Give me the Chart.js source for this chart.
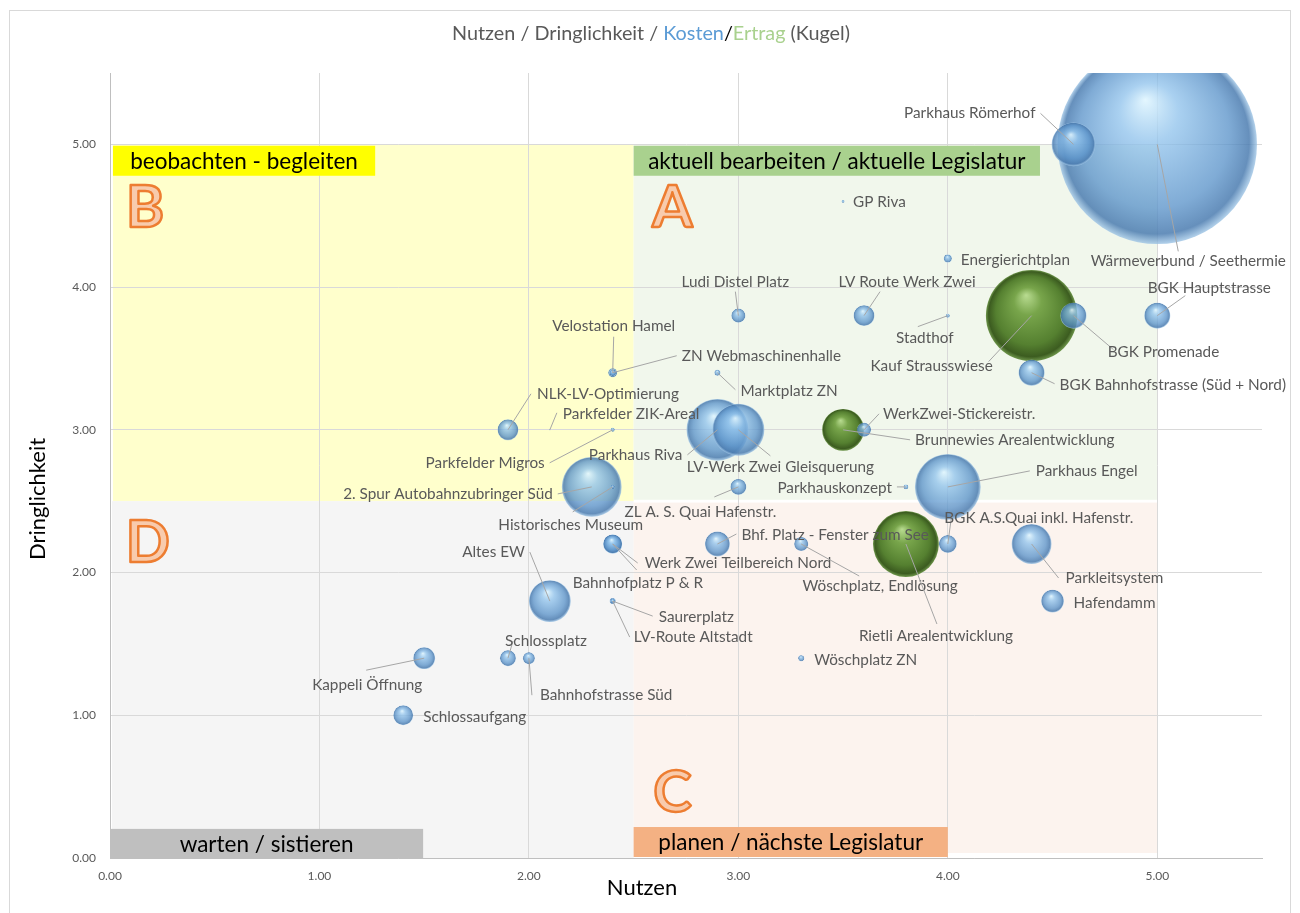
<!DOCTYPE html>
<html><head><meta charset="utf-8">
<script src="https://cdn.jsdelivr.net/npm/chart.js@4/dist/chart.umd.min.js"></script>
<style>html,body{margin:0;padding:0;background:#fff;}#wrap{width:1300px;height:913px;}</style>
</head><body><div id="wrap"><canvas id="c" width="1300" height="913"></canvas></div>
<script>
// ---------- DATA ----------
const kostenProjekte = ['Wärmeverbund / Seethermie','Parkhaus Römerhof','GP Riva','Energierichtplan','LV Route Werk Zwei','Ludi Distel Platz','Stadthof','BGK Promenade','BGK Hauptstrasse','BGK Bahnhofstrasse (Süd + Nord)','Velostation Hamel','ZN Webmaschinenhalle','Marktplatz ZN','NLK-LV-Optimierung','Parkfelder ZIK-Areal','Parkfelder Migros','Parkhaus Riva','LV-Werk Zwei Gleisquerung','WerkZwei-Stickereistr.','2. Spur Autobahnzubringer Süd','Historisches Museum','ZL A. S. Quai Hafenstr.','Parkhauskonzept','Parkhaus Engel','Werk Zwei Teilbereich Nord','Bahnhofplatz P & R','Bhf. Platz - Fenster zum See','Wöschplatz, Endlösung','BGK A.S.Quai inkl. Hafenstr.','Parkleitsystem','Hafendamm','Altes EW','Saurerplatz','LV-Route Altstadt','Wöschplatz ZN','Kappeli Öffnung','Schlossplatz','Bahnhofstrasse Süd','Schlossaufgang'];
const kostenNutzen = [5.0,4.6,3.5,4.0,3.6,3.0,4.0,4.6,5.0,4.4,2.4,2.4,2.9,1.9,2.1,2.4,2.9,3.0,3.6,2.3,2.4,3.0,3.8,4.0,2.4,2.4,2.9,3.3,4.0,4.4,4.5,2.1,2.4,2.4,3.3,1.5,1.9,2.0,1.4];
const kostenDringlichkeit = [5.0,5.0,4.6,4.2,3.8,3.8,3.8,3.8,3.8,3.4,3.4,3.4,3.4,3.0,3.0,3.0,3.0,3.0,3.0,2.6,2.6,2.6,2.6,2.6,2.2,2.2,2.2,2.2,2.2,2.2,1.8,1.8,1.8,1.8,1.4,1.4,1.4,1.4,1.0];
const kostenGroesse = [100,4.8,0.02,0.16,1.1,0.5,0.04,1.7,1.7,1.7,0.2,0.1,0.09,1.1,0.003,0.04,9.6,6.8,0.5,9.0,0.04,0.64,0.06,10.9,0.9,0.9,1.56,0.5,0.8,4.0,1.3,4.4,0.09,0.05,0.09,1.2,0.64,0.36,1.0];

const ertragProjekte = ['Kauf Strausswiese','Brunnewies Arealentwicklung','Rietli Arealentwicklung'];
const ertragNutzen = [4.4,3.5,3.8];
const ertragDringlichkeit = [3.8,3.0,2.2];
const ertragGroesse = [21,4.4,10.9];

const achsenTicks = [0,1,2,3,4,5];
const titelTeile = ['Nutzen / Dringlichkeit / ','Kosten','/','Ertrag',' (Kugel)'];
const quadrantTitel = ['aktuell bearbeiten / aktuelle Legislatur','beobachten - begleiten','planen / nächste Legislatur','warten / sistieren'];
const quadrantBuchstaben = ['A','B','C','D'];

// ---------- LAYOUT (label placement, px offsets from point) ----------
const labelLayout = {
 'Wärmeverbund / Seethermie':[31,117,'center',21,107],
 'Parkhaus Römerhof':[-38,-31,'right',-33,-31],
 'GP Riva':[10,1,'left',null,null],
 'Energierichtplan':[13,2,'left',null,null],
 'LV Route Werk Zwei':[43,-34,'center',16,-24],
 'Ludi Distel Platz':[-3,-34,'center',-3,-24],
 'Stadthof':[-23,22,'center',-30,11],
 'Kauf Strausswiese':[-100,50,'center',-43,46],
 'BGK Promenade':[90,36,'center',40,34],
 'BGK Hauptstrasse':[52,-28,'center',28,-20],
 'BGK Bahnhofstrasse (Süd + Nord)':[28,12,'left',23,11],
 'Velostation Hamel':[1,-47,'center',1,-36],
 'ZN Webmaschinenhalle':[69,-17,'left',64,-17],
 'Marktplatz ZN':[23,18,'left',18,17],
 'NLK-LV-Optimierung':[29,-36,'left',23,-36],
 'Parkfelder ZIK-Areal':[13,-16,'left',7,-17],
 'Parkfelder Migros':[-68,33,'right',-63,33],
 'Parkhaus Riva':[-35,25,'right',-30,25],
 'LV-Werk Zwei Gleisquerung':[42,37,'center',32,26],
 'Brunnewies Arealentwicklung':[72,10,'left',67,10],
 'WerkZwei-Stickereistr.':[19,-16,'left',15,-16],
 '2. Spur Autobahnzubringer Süd':[-39,7,'right',-34,7],
 'Historisches Museum':[-42,38,'center',-40,25],
 'ZL A. S. Quai Hafenstr.':[-38,25,'center',-24,10],
 'Parkhauskonzept':[-14,1,'right',-9,0],
 'Parkhaus Engel':[88,-16,'left',82,-16],
 'Werk Zwei Teilbereich Nord':[32,19,'left',25,19],
 'Bahnhofplatz P & R':[-40,39,'left',24,26],
 'Bhf. Platz - Fenster zum See':[24,-9,'left',19,-10],
 'Wöschplatz, Endlösung':[79,42,'center',58,32],
 'Rietli Arealentwicklung':[30,92,'center',31,80],
 'BGK A.S.Quai inkl. Hafenstr.':[91,-26,'center',4,-30],
 'Parkleitsystem':[34,34,'left',27,34],
 'Hafendamm':[21,2,'left',null,null],
 'Altes EW':[-25,-49,'right',-20,-49],
 'Saurerplatz':[46,16,'left',40,15],
 'LV-Route Altstadt':[21,36,'left',17,36],
 'Wöschplatz ZN':[13,2,'left',null,null],
 'Kappeli Öffnung':[-57,27,'center',-58,12],
 'Schlossplatz':[38,-17,'center',5,-17],
 'Bahnhofstrasse Süd':[11,37,'left',3,37],
 'Schlossaufgang':[20,2,'left',null,null]
};

const FONT = 'Lato, "Open Sans", sans-serif';
const R_MAX = 99.7; // px radius of the largest bubble
const maxGroesse = Math.max(...kostenGroesse, ...ertragGroesse);

function sphere(stops){
  return function(ctx){
    const ch = ctx.chart;
    if(!ch.chartArea || !ctx.raw) return stops[1][1];
    const cx = ch.scales.x.getPixelForValue(ctx.raw.x);
    const cy = ch.scales.y.getPixelForValue(ctx.raw.y);
    const r = Math.max(ctx.raw.r,0.5);
    const g = ch.ctx.createRadialGradient(cx - 0.12*r, cy - 0.45*r, 0, cx, cy, r);
    stops.forEach(s=>g.addColorStop(s[0], s[1]));
    return g;
  };
}
const blueStops = [[0,'rgba(225,246,255,0.9)'],[0.3,'rgba(145,195,236,0.78)'],[0.75,'rgba(92,148,202,0.78)'],[0.93,'rgba(75,124,176,0.85)'],[1,'rgba(160,198,230,0.8)']];
const greenStops = [[0,'rgba(185,220,145,1)'],[0.3,'rgba(120,165,75,1)'],[0.75,'rgba(85,128,48,1)'],[0.93,'rgba(60,92,32,1)'],[1,'rgba(110,150,75,1)']];

function toPoints(names, xs, ys, sizes){
  return names.map((n,i)=>({x:xs[i], y:ys[i], r:R_MAX*Math.sqrt(sizes[i]/maxGroesse), name:n}));
}

const bgPlugin = {
  id:'bg',
  beforeDraw(chart){
    const c = chart.ctx, X = chart.scales.x, Y = chart.scales.y;
    c.save();
    c.fillStyle = '#fff'; c.fillRect(0,0,chart.width,chart.height);
    c.strokeStyle = '#D9D9D9'; c.lineWidth = 1;
    c.strokeRect(9.5,10.5,1281,915);
    const rect = (x0,y0,x1,y1,col)=>{
      const a = X.getPixelForValue(x0), b = X.getPixelForValue(x1);
      const t = Y.getPixelForValue(y1), u = Y.getPixelForValue(y0);
      c.fillStyle = col; c.fillRect(a,t,b-a,u-t);
    };
    rect(0.014,2.5,2.5,5.0,'#FFFFCC');
    rect(2.5,2.51,5.0,5.0,'#F1F7EC');
    rect(0.01,0,2.5,2.5,'#F5F5F5');
    rect(2.5,0.035,5.0,2.49,'#FCF3EE');
    // title
    c.font = '17px '+FONT;
    let total = 0; titelTeile.forEach(t=>total += c.measureText(t).width);
    const scale = 398/total;
    c.font = (17*scale).toFixed(2)+'px '+FONT;
    total = 0; titelTeile.forEach(t=>total += c.measureText(t).width);
    let x = 651 - total/2;
    const cols = ['#595959','#5B9BD5','#000000','#A9D18E','#595959'];
    c.textBaseline = 'middle'; c.textAlign = 'left';
    titelTeile.forEach((t,i)=>{ c.fillStyle = cols[i]; c.fillText(t,x,34); x += c.measureText(t).width; });
    // axis titles
    c.fillStyle = '#000'; c.font = '22px '+FONT; c.textAlign='center';
    c.fillText('Nutzen', 642, 888);
    c.save(); c.translate(38,499); c.rotate(-Math.PI/2); c.fillText('Dringlichkeit',0,0); c.restore();
    c.restore();
  },
  beforeDatasetsDraw(chart){
    const c = chart.ctx, X = chart.scales.x, Y = chart.scales.y;
    c.save();
    const box = (x0,y0,x1,y1,col,txt)=>{
      const a = X.getPixelForValue(x0), b = X.getPixelForValue(x1);
      const t = Y.getPixelForValue(y1), u = Y.getPixelForValue(y0);
      c.fillStyle = col; c.fillRect(a,t,b-a,u-t);
      c.fillStyle = '#000'; c.font = '22.5px '+FONT; c.textAlign='center'; c.textBaseline='middle';
      c.fillText(txt,(a+b)/2,(t+u)/2+1);
    };
    box(2.5,4.78,4.44,4.99,'#A9D18E',quadrantTitel[0]);
    box(0.014,4.78,1.266,4.99,'#FFFF00',quadrantTitel[1]);
    box(2.5,0.007,4.0,0.217,'#F4B183',quadrantTitel[2]);
    box(0,0,1.495,0.204,'#BFBFBF',quadrantTitel[3]);
    const letter = (ch,x,y)=>{
      c.font = 'bold 58px '+FONT; c.textAlign='center'; c.textBaseline='alphabetic';
      c.lineJoin='round'; c.lineWidth = 2.5; c.strokeStyle = '#ED7D31'; c.fillStyle = '#F8CBAD';
      const px = X.getPixelForValue(x), py = Y.getPixelForValue(y);
      c.fillText(ch,px,py); c.strokeText(ch,px,py);
    };
    letter(quadrantBuchstaben[0],2.685,4.42);
    letter(quadrantBuchstaben[1],0.167,4.42);
    letter(quadrantBuchstaben[2],2.685,0.32);
    letter(quadrantBuchstaben[3],0.18,2.076);
    c.restore();
  },
  afterDatasetsDraw(chart){
    const c = chart.ctx;
    c.save();
    c.font = '15.3px '+FONT; c.textBaseline='middle';
    chart.data.datasets.forEach((ds,di)=>{
      const meta = chart.getDatasetMeta(di);
      ds.data.forEach((p,i)=>{
        const el = meta.data[i]; const L = labelLayout[p.name]; if(!L) return;
        const px = el.x, py = el.y;
        if(L[3]!==null){
          c.strokeStyle='#A6A6A6'; c.lineWidth=1;
          c.beginPath(); c.moveTo(px+L[3],py+L[4]); c.lineTo(px,py); c.stroke();
        }
        c.fillStyle='#595959'; c.textAlign=L[2];
        c.fillText(p.name, px+L[0], py+L[1]);
      });
    });
    c.restore();
  }
};

new Chart(document.getElementById('c'), {
  type:'bubble',
  data:{datasets:[
    {label:'Kosten', data:toPoints(kostenProjekte,kostenNutzen,kostenDringlichkeit,kostenGroesse), backgroundColor:sphere(blueStops), borderWidth:0, clip:0, order:0},
    {label:'Ertrag', data:toPoints(ertragProjekte,ertragNutzen,ertragDringlichkeit,ertragGroesse), backgroundColor:sphere(greenStops), borderWidth:0, clip:0, order:1}
  ]},
  options:{
    responsive:false, animation:false, devicePixelRatio:1, events:[],
    layout:{autoPadding:false, padding:{top:73,right:38,left:0,bottom:0}},
    plugins:{legend:{display:false}, tooltip:{enabled:false}, title:{display:false}},
    scales:{
      x:{type:'linear', min:0, max:5.5,
         afterBuildTicks:s=>{ s.ticks = achsenTicks.map(v=>({value:v})); },
         afterFit:s=>{ s.height = 55; },
         grid:{color:'#D9D9D9', drawTicks:false}, border:{color:'#BFBFBF'},
         ticks:{padding:11, color:'#595959', font:{family:FONT,size:12}, callback:v=>Number(v).toFixed(2), maxRotation:0}},
      y:{type:'linear', min:0, max:5.5,
         afterBuildTicks:s=>{ s.ticks = achsenTicks.map(v=>({value:v})); },
         afterFit:s=>{ s.width = 110; },
         grid:{color:'#D9D9D9', drawTicks:false}, border:{color:'#BFBFBF'},
         ticks:{padding:14, color:'#595959', font:{family:FONT,size:12}, callback:v=>Number(v).toFixed(2)}}
    }
  },
  plugins:[bgPlugin]
});
</script></body></html>
